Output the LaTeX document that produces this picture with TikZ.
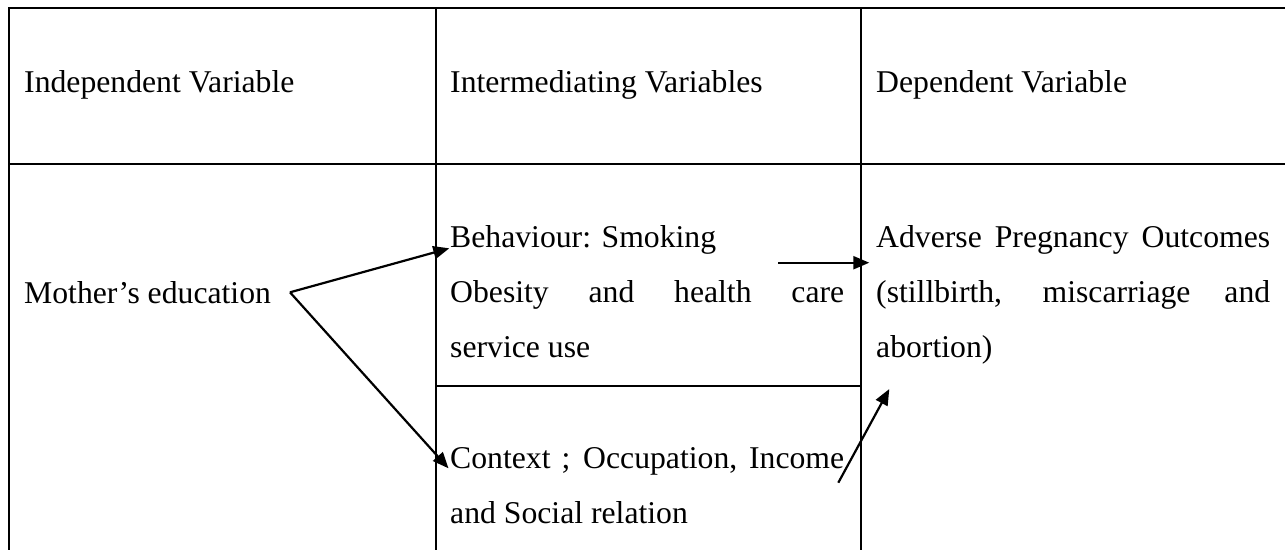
\documentclass[tikz,border=0pt]{standalone}
\usepackage{fontspec}
\setmainfont{Liberation Serif}
\usetikzlibrary{arrows.meta}
\begin{document}
\begin{tikzpicture}[x=1pt,y=-1pt,
  rule/.style={line width=2pt},
  celltext/.style={anchor=base west, inner sep=0pt, font=\fontsize{31.7pt}{55pt}\selectfont},
  para/.style={celltext, text width=394pt, align=justify},
  link/.style={line width=2.2pt, -{Triangle[length=16pt,width=13pt]}}]
\useasboundingbox (0,0) rectangle (1285,550);

% table rules
\draw[rule] (8,8) -- (1285,8);
\draw[rule] (8,164) -- (1285,164);
\draw[line width=2.6pt] (9,7) -- (9,550);
\draw[rule] (436,7) -- (436,550);
\draw[rule] (861,7) -- (861,550);
\draw[rule] (436,385.7) -- (861,385.7);

% header row
\node[celltext] (hind) at (24,92) {Independent Variable};
\node[celltext] (hmid) at (450,92) {Intermediating Variables};
\node[celltext] (hdep) at (876,92) {Dependent Variable};

% body cells
\node[celltext] (mother) at (24,303) {Mother’s education};
\node[para] (behav) at (450,247) {Behaviour: Smoking\\ Obesity and health care\linebreak service use};
\node[para] (context) at (450,468.5) {Context ; Occupation, Income\linebreak and Social relation};
\node[para] (outcome) at (876,247) {Adverse Pregnancy Outcomes\linebreak (stillbirth, miscarriage and\linebreak abortion)};

% arrow end points
\coordinate (fork) at (290,292.3);
\coordinate (behin) at (449.3,248.3);
\coordinate (ctxin) at (448.5,468.3);
\coordinate (behout) at (778.3,262.7);
\coordinate (outin) at (869.3,262.7);
\coordinate (ctxout) at (838.3,482.7);
\coordinate (outin2) at (889.3,389);

% connectors
\draw[link] (fork) -- (behin);
\draw[link] (fork) -- (ctxin);
\draw[link] (behout) -- (outin);
\draw[link] (ctxout) -- (outin2);
\end{tikzpicture}
\end{document}
